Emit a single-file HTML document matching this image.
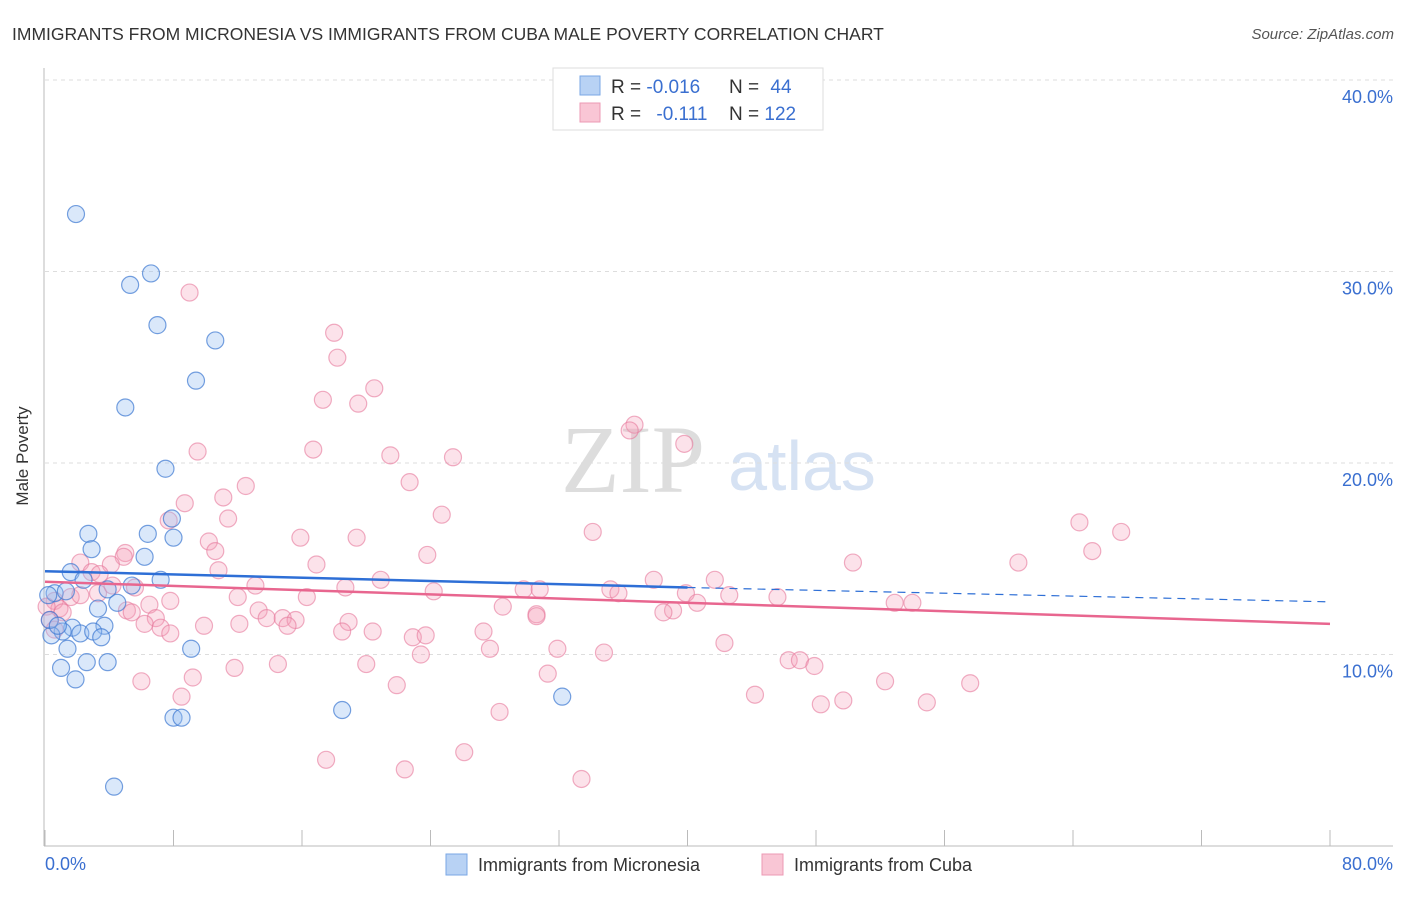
<!DOCTYPE html>
<html><head><meta charset="utf-8"><style>
body{margin:0;background:#fff;font-family:"Liberation Sans",sans-serif}
</style></head><body>
<svg width="1406" height="892" viewBox="0 0 1406 892" xmlns="http://www.w3.org/2000/svg">
<text x="12" y="40" font-size="17.5" fill="#333">IMMIGRANTS FROM MICRONESIA VS IMMIGRANTS FROM CUBA MALE POVERTY CORRELATION CHART</text>
<text x="1394" y="39" font-size="15" fill="#555" font-style="italic" text-anchor="end">Source: ZipAtlas.com</text>
<text x="633" y="492" font-size="96" fill="#ddd" text-anchor="middle" font-family="Liberation Serif,serif">ZIP</text>
<text x="802" y="490" font-size="70" fill="#d6e2f3" text-anchor="middle">atlas</text>
<g id="grid"></g>
<g id="axes"></g>
<g id="pts"></g>
<g id="trend"></g>
<text x="28" y="456" font-size="17" fill="#333" text-anchor="middle" transform="rotate(-90 28 456)">Male Poverty</text>
<g>
<rect x="553" y="68" width="270" height="62" fill="#fff" stroke="#ddd"/>
<rect x="580" y="76" width="20" height="19" fill="#b8d2f4" stroke="#7aa7e4"/>
<rect x="580" y="103" width="20" height="19" fill="#f9c6d5" stroke="#ec9ab4"/>
<text x="611" y="93" font-size="19" fill="#333">R = <tspan fill="#3a6fd0">-0.016</tspan></text>
<text x="729" y="93" font-size="19" fill="#333">N = <tspan fill="#3a6fd0" dx="6">44</tspan></text>
<text x="611" y="120" font-size="19" fill="#333">R = <tspan fill="#3a6fd0" dx="10">-0.111</tspan></text>
<text x="729" y="120" font-size="19" fill="#333">N = <tspan fill="#3a6fd0">122</tspan></text>
</g>
<g>
<rect x="446" y="854" width="21" height="21" fill="#b8d2f4" stroke="#7aa7e4"/>
<text x="478" y="871" font-size="18" fill="#333">Immigrants from Micronesia</text>
<rect x="762" y="854" width="21" height="21" fill="#f9c6d5" stroke="#ec9ab4"/>
<text x="794" y="871" font-size="18" fill="#333">Immigrants from Cuba</text>
</g>
</svg>
<script>
const yTicks=[10,20,30,40];
const yTickLabels=["10.0%","20.0%","30.0%","40.0%"];
const xTickLabels=["0.0%","80.0%"];
const blueX=[1.93,6.6,5.3,7.0,10.6,9.4,5.0,7.5,2.7,7.9,6.4,8.0,2.9,6.2,1.6,2.4,7.2,5.4,3.9,0.6,0.2,1.3,4.5,3.3,3.7,1.7,1.1,2.2,3.0,3.5,0.4,1.4,9.1,1.0,2.6,3.9,1.9,8.0,8.5,18.5,32.2,4.3,0.3,0.8];
const blueY=[33.0,29.9,29.3,27.2,26.4,24.3,22.9,19.7,16.3,17.1,16.3,16.1,15.5,15.1,14.3,13.9,13.9,13.6,13.4,13.2,13.1,13.3,12.7,12.4,11.5,11.4,11.2,11.1,11.2,10.9,11.0,10.3,10.3,9.3,9.6,9.6,8.7,6.7,6.7,7.1,7.8,3.1,11.8,11.5];
const pinkX=[9.0,18.0,18.2,20.5,17.3,19.5,36.7,36.4,39.8,9.5,16.7,21.5,25.4,12.5,22.7,8.7,11.1,24.7,11.4,7.7,34.1,64.4,67.0,15.9,19.4,10.2,10.6,5.0,4.9,23.8,65.2,50.3,60.6,16.9,2.2,4.1,10.8,2.9,20.9,41.7,37.9,13.1,18.7,29.8,30.8,24.2,35.2,35.7,5.6,3.3,39.9,42.6,45.6,12.0,7.8,16.3,6.5,0.6,0.9,1.6,40.6,28.5,5.1,5.4,13.3,39.1,38.5,30.6,13.8,14.8,15.6,15.1,6.9,9.9,12.1,6.2,18.9,7.2,7.8,18.5,20.4,27.3,30.6,22.9,23.7,27.7,42.3,23.4,31.9,34.8,52.9,54.0,46.3,47.0,47.9,20.0,11.8,14.5,0.1,0.3,0.6,6.0,31.3,21.9,52.3,57.6,9.2,8.5,44.2,48.3,49.7,54.9,28.3,17.5,26.1,22.4,33.4,1.1,3.4,2.2,4.2];
const pinkY=[28.9,26.8,25.5,23.9,23.3,23.1,22.0,21.7,21.0,20.6,20.7,20.4,20.3,18.8,19.0,17.9,18.2,17.3,17.1,17.0,16.4,16.9,16.4,16.1,16.1,15.9,15.4,15.3,15.1,15.2,15.4,14.8,14.8,14.7,14.8,14.7,14.4,14.3,13.9,13.9,13.9,13.6,13.5,13.4,13.4,13.3,13.4,13.2,13.5,13.2,13.2,13.1,13.0,13.0,12.8,13.0,12.6,12.8,12.4,13.0,12.7,12.5,12.3,12.2,12.3,12.3,12.2,12.1,11.9,11.9,11.8,11.5,11.9,11.5,11.6,11.6,11.7,11.4,11.1,11.2,11.2,11.2,12.0,10.9,11.0,10.3,10.6,10.0,10.3,10.1,12.7,12.7,9.7,9.7,9.4,9.5,9.3,9.5,12.5,11.8,11.3,8.6,9.0,8.4,8.6,8.5,8.8,7.8,7.9,7.4,7.6,7.5,7.0,4.5,4.9,4.0,3.5,12.2,14.2,13.1,13.6];
const blueTrend=[[0,14.35],[40,13.5],[80,12.75]];
const pinkTrend=[[0,13.8],[80,11.6]];
const NS="http://www.w3.org/2000/svg";
const sx=v=>45+v/80*1285, sy=v=>846-v*19.15;
function mk(t,a,p){const e=document.createElementNS(NS,t);for(const k in a)e.setAttribute(k,a[k]);p.appendChild(e);return e;}
const grid=document.getElementById('grid'),axes=document.getElementById('axes'),pts=document.getElementById('pts'),tr=document.getElementById('trend');
yTicks.forEach((v,i)=>{
 const l=mk('line',{x1:45,x2:1393,y1:sy(v),y2:sy(v),stroke:'#ddd','stroke-dasharray':'4 4'},grid);
 
 
 const t=mk('text',{x:1393,y:sy(v)+23,'font-size':18,fill:'#3a6fd0','text-anchor':'end'},grid);
 t.textContent=yTickLabels[i];
 
 
});
const ax=mk('line',{x1:44,x2:44,y1:68,y2:846,stroke:'#bbb'},axes);


const bx=mk('line',{x1:44,x2:1393,y1:846,y2:846,stroke:'#bbb'},axes);


for(let i=0;i<=10;i++){const tk=mk('line',{x1:sx(i*8),x2:sx(i*8),y1:830,y2:846,stroke:'#bbb'},axes);
 
 }
[[0,'start',45],[1,'end',1393]].forEach(([i,a,x])=>{const t=mk('text',{x:x,y:870,'font-size':18,fill:'#3a6fd0','text-anchor':a},axes);t.textContent=xTickLabels[i];
 
 });
pinkX.forEach((x,i)=>{const c=mk('circle',{cx:sx(x),cy:sy(pinkY[i]),r:8.5,fill:'rgba(244,160,185,0.3)',stroke:'rgba(230,120,155,0.6)','stroke-width':1.2},pts);
 
 });
blueX.forEach((x,i)=>{const c=mk('circle',{cx:sx(x),cy:sy(blueY[i]),r:8.5,fill:'rgba(150,190,240,0.35)',stroke:'rgba(60,120,210,0.7)','stroke-width':1.2},pts);
 
 });
const b1=mk('line',{x1:sx(blueTrend[0][0]),y1:sy(blueTrend[0][1]),x2:sx(blueTrend[1][0]),y2:sy(blueTrend[1][1]),stroke:'#2e6fd6','stroke-width':2.5},tr);


const b2=mk('line',{x1:sx(blueTrend[1][0]),y1:sy(blueTrend[1][1]),x2:sx(blueTrend[2][0]),y2:sy(blueTrend[2][1]),stroke:'#2e6fd6','stroke-width':1.2,'stroke-dasharray':'8 6'},tr);


const p1=mk('line',{x1:sx(pinkTrend[0][0]),y1:sy(pinkTrend[0][1]),x2:sx(pinkTrend[1][0]),y2:sy(pinkTrend[1][1]),stroke:'#e8668f','stroke-width':2.5},tr);


</script>
</body></html>
